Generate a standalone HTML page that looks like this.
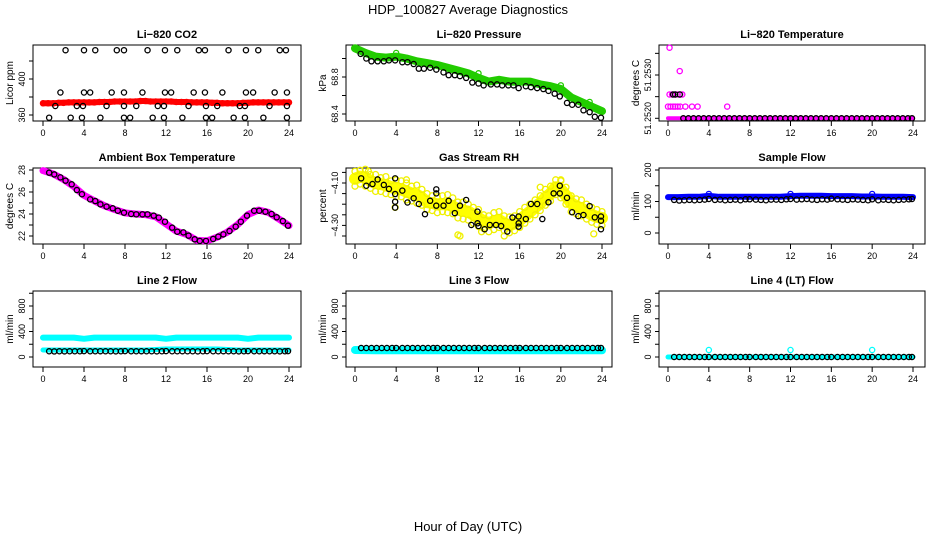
<!DOCTYPE html>
<html><head><meta charset="utf-8"><style>
html,body{margin:0;padding:0;background:#fff;}
svg{display:block;font-family:"Liberation Sans",Arial,sans-serif;}
</style></head><body>
<svg id="chart" width="936" height="540" viewBox="0 0 936 540" xmlns="http://www.w3.org/2000/svg">
<text x="468" y="14" text-anchor="middle" font-size="13">HDP_100827  Average Diagnostics</text>
<text x="468" y="531" text-anchor="middle" font-size="13">Hour of Day (UTC)</text>
</svg>
<script>
// ---------- data ----------
const xTicks = [0,4,8,12,16,20,24];
const halfHours = [0,0.5,1,1.5,2,2.5,3,3.5,4,4.5,5,5.5,6,6.5,7,7.5,8,8.5,9,9.5,10,10.5,11,11.5,12,12.5,13,13.5,14,14.5,15,15.5,16,16.5,17,17.5,18,18.5,19,19.5,20,20.5,21,21.5,22,22.5,23,23.5,24];
const hourly = [0,1,2,3,4,5,6,7,8,9,10,11,12,13,14,15,16,17,18,19,20,21,22,23,24];
const blackHours = [0.6,1.1,1.6,2.1,2.6,3.1,3.6,4.0,4.6,5.1,5.6,6.1,6.6,7.1,7.6,8.0,8.6,9.1,9.6,10.1,10.6,11.1,11.6,12.0,12.6,13.1,13.6,14.1,14.6,15.1,15.6,16.0,16.6,17.1,17.6,18.1,18.6,19.1,19.6,20.0,20.6,21.1,21.6,22.1,22.6,23.1,23.6,23.9];

// P1 CO2
const co2Red = [373,373,373,373.5,373.5,374,374,374,374,374,374,374.5,374.5,374.5,375,375,375,375,375,375.5,375.5,375,375,375,375,375,374.5,374.5,374.5,374,374,374,374,373.5,373.5,373,373,373,373,373.5,373.5,374,374,374,374,374,374,374,374];
const co2BlackHours = [2.2,4.0,5.1,7.2,7.9,10.2,11.9,13.1,15.2,15.8,18.1,19.8,21.0,23.1,23.7, 1.7,4.0,4.6,6.7,7.9,9.7,11.9,12.5,14.7,15.8,17.5,19.8,20.5,22.6,23.8, 1.2,3.3,3.9,6.2,7.9,9.1,11.2,11.8,14.2,15.9,17.0,19.2,19.7,22.1,23.8, 0.6,2.7,3.8,5.6,7.9,8.5,10.7,11.8,13.6,15.9,16.5,18.6,19.7,21.5,23.8];
const co2BlackVals = [432,432,432,432,432,432,432,432,432,432,432,432,432,432,432, 385,385,385,385,385,385,385,385,385,385,385,385,385,385,385, 370,370,370,370,370,370,370,370,370,370,370,370,370,370,370, 357,357,357,357,357,357,357,357,357,357,357,357,357,357,357];

// P2 Pressure
const presGreen = [69.11,69.06,69.02,69.01,69.02,69.0,68.97,68.95,68.93,68.90,68.87,68.84,68.79,68.75,68.77,68.75,68.75,68.75,68.72,68.70,68.67,68.58,68.53,68.48,68.43];
const presGreenOutHours = [4.0,12.0,20.0,22.8];
const presGreenOutVals = [69.06,68.84,68.71,68.53];
const presBlackHours = [0.55,1.1,1.6,2.2,2.8,3.3,3.9,4.6,5.1,5.7,6.2,6.7,7.3,7.9,8.6,9.1,9.7,10.2,10.8,11.4,12.0,12.5,13.2,13.8,14.3,14.9,15.4,15.9,16.6,17.1,17.7,18.3,18.8,19.4,19.9,20.6,21.1,21.7,22.2,22.8,23.3,23.9];
const presBlackVals = [69.05,69.0,68.97,68.97,68.97,68.98,68.98,68.96,68.96,68.94,68.89,68.89,68.90,68.88,68.85,68.82,68.82,68.81,68.79,68.74,68.73,68.71,68.72,68.72,68.71,68.71,68.71,68.68,68.70,68.69,68.68,68.67,68.65,68.62,68.59,68.52,68.50,68.50,68.44,68.42,68.37,68.36];

// P3 Li-820 temperature
const tempBase = [51.2520,51.2520,51.2520,51.2520,51.2520,51.2520,51.2520,51.2520,51.2520,51.2520,51.2520,51.2520,51.2520,51.2520,51.2520,51.2520,51.2520,51.2520,51.2520,51.2520,51.2520,51.2520,51.2520,51.2520,51.2520];
const tempMagHours = [0,0.25,0.5,0.7,0.95,1.2,1.7,2.35,2.9,5.8, 0.15,0.4,0.7,0.95,1.2,1.4, 1.15, 0.15];
const tempMagVals = [51.25227,51.25227,51.25227,51.25227,51.25227,51.25227,51.25227,51.25227,51.25227,51.25227, 51.25255,51.25255,51.25255,51.25255,51.25255,51.25255, 51.25309, 51.25363];
const tempBlackHours = [0.5,0.7,1.15,1.5,2.0,2.5,3.0,3.5,4.0,4.5,5.0,5.5,6.0,6.5,7.0,7.5,8.0,8.5,9.0,9.5,10.0,10.5,11.0,11.5,12.0,12.5,13.0,13.5,14.0,14.5,15.0,15.5,16.0,16.5,17.0,17.5,18.0,18.5,19.0,19.5,20.0,20.5,21.0,21.5,22.0,22.5,23.0,23.5,23.9];
const tempBlackVals = [51.25255,51.25255,51.25255,51.2520,51.2520,51.2520,51.2520,51.2520,51.2520,51.2520,51.2520,51.2520,51.2520,51.2520,51.2520,51.2520,51.2520,51.2520,51.2520,51.2520,51.2520,51.2520,51.2520,51.2520,51.2520,51.2520,51.2520,51.2520,51.2520,51.2520,51.2520,51.2520,51.2520,51.2520,51.2520,51.2520,51.2520,51.2520,51.2520,51.2520,51.2520,51.2520,51.2520,51.2520,51.2520,51.2520,51.2520,51.2520,51.2520];

// P4 Ambient box temperature
const ambMag = [27.95,27.65,27.15,26.5,25.7,25.2,24.75,24.4,24.1,24.0,23.95,23.75,23.1,22.45,22.15,21.6,21.55,21.9,22.35,23.05,23.95,24.35,24.15,23.55,22.95];
const ambBlackHours = [0.6,1.1,1.7,2.2,2.8,3.3,3.8,4.6,5.1,5.6,6.2,6.8,7.3,7.9,8.6,9.1,9.7,10.2,10.8,11.3,11.9,12.6,13.1,13.7,14.2,14.8,15.3,15.9,16.6,17.1,17.6,18.2,18.8,19.3,19.9,20.6,21.1,21.7,22.3,22.8,23.4,23.9];
const ambBlackVals = [27.76,27.6,27.33,27.03,26.7,26.18,25.8,25.33,25.18,24.88,24.67,24.52,24.3,24.12,24.0,23.97,23.97,23.97,23.85,23.67,23.3,22.76,22.39,22.33,22.03,21.7,21.55,21.55,21.73,21.94,22.15,22.45,22.85,23.3,23.85,24.3,24.3,24.21,24.0,23.7,23.36,22.94];

// P5 Gas stream RH
const rhCenter = [-4.08,-4.07,-4.075,-4.09,-4.10,-4.105,-4.11,-4.12,-4.125,-4.13,-4.14,-4.15,-4.155,-4.17,-4.19,-4.195,-4.2,-4.2,-4.2,-4.21,-4.225,-4.23,-4.235,-4.25,-4.265,-4.28,-4.29,-4.28,-4.275,-4.29,-4.3,-4.29,-4.275,-4.255,-4.235,-4.215,-4.195,-4.17,-4.15,-4.12,-4.13,-4.16,-4.195,-4.21,-4.22,-4.235,-4.25,-4.26,-4.265];
const rhUpper = [-4.045,-4.04,-4.035,-4.06,-4.06,-4.075,-4.07,-4.09,-4.085,-4.09,-4.10,-4.115,-4.11,-4.13,-4.15,-4.16,-4.165,-4.16,-4.155,-4.17,-4.19,-4.19,-4.2,-4.215,-4.225,-4.25,-4.255,-4.24,-4.235,-4.255,-4.26,-4.255,-4.235,-4.215,-4.2,-4.18,-4.16,-4.13,-4.115,-4.085,-4.09,-4.12,-4.16,-4.175,-4.18,-4.2,-4.215,-4.225,-4.235];
const rhLower = [-4.115,-4.105,-4.115,-4.125,-4.14,-4.14,-4.15,-4.155,-4.165,-4.165,-4.18,-4.185,-4.195,-4.205,-4.225,-4.23,-4.24,-4.235,-4.24,-4.245,-4.265,-4.27,-4.275,-4.29,-4.305,-4.315,-4.33,-4.32,-4.31,-4.325,-4.335,-4.325,-4.31,-4.29,-4.27,-4.25,-4.23,-4.205,-4.185,-4.155,-4.17,-4.2,-4.235,-4.245,-4.255,-4.27,-4.285,-4.295,-4.3];
const rhOutHours = [10.0,10.2,14.5,23.2,1.3,5.0,20.0,18.0,3.9,12.3];
const rhOutVals = [-4.345,-4.35,-4.35,-4.34,-4.045,-4.085,-4.085,-4.12,-4.215,-4.33];
const rhBlackHours = [0.6,1.1,1.7,2.2,2.8,3.3,3.9,3.9,3.9,3.9,4.6,5.1,5.7,6.2,6.8,7.3,7.9,7.9,7.9,8.6,9.1,9.7,10.2,10.8,11.3,11.9,11.9,12.0,12.6,13.1,13.7,14.2,14.8,15.3,15.9,15.9,15.9,16.6,17.1,17.7,18.2,18.8,19.3,19.9,19.9,20.6,21.1,21.7,22.2,22.8,23.3,23.9,23.9,23.9];
const rhBlackVals = [-4.078,-4.113,-4.105,-4.083,-4.109,-4.128,-4.152,-4.078,-4.188,-4.216,-4.136,-4.192,-4.172,-4.199,-4.247,-4.184,-4.13,-4.149,-4.207,-4.207,-4.184,-4.242,-4.207,-4.18,-4.298,-4.235,-4.29,-4.303,-4.318,-4.298,-4.298,-4.303,-4.329,-4.263,-4.258,-4.29,-4.306,-4.27,-4.199,-4.199,-4.27,-4.191,-4.149,-4.113,-4.149,-4.17,-4.238,-4.256,-4.251,-4.209,-4.262,-4.258,-4.278,-4.318];

// P6 Sample flow
const sampBlue = [114,114,115,115,118,115,115,115,115,115,115,115,117,118,118,118,117,117,117,116,116,115,115,115,114];
const sampBlueOutHours = [4.0,12.0,20.0];
const sampBlueOutVals = [124,124,124];
const sampBlack = [105,103,104,105,104,105,106,108,105,106,104,105,106,104,107,107,106,105,104,106,106,105,107,108,106,107,108,106,105,107,106,109,107,106,105,107,106,105,104,107,104,106,105,104,105,106,107,108];

// Line 2 flow
const l2CyanHigh = [305,305,305,305,285,305,305,305,305,305,305,305,285,305,305,305,305,305,305,305,285,305,305,305,305];
const l2CyanLow = [110,110,110,110,110,110,110,110,110,110,110,118,125,125,125,125,125,125,118,110,110,110,110,110,110];
const l2Black = [90,88,90,89,90,90,90,92,90,90,91,90,90,89,90,92,90,90,91,90,90,89,90,93,90,90,91,90,90,89,90,92,90,90,91,90,90,89,90,92,90,90,91,90,90,89,90,92];

// Line 3 flow
const l3Cyan = [110,108,106,106,105,106,106,105,106,105,106,105,105,106,105,105,106,105,105,106,105,105,106,105,105];
const l3Black = [141,141,141,141,141,141,141,142,141,141,141,141,141,141,141,142,141,141,141,141,141,141,141,142,141,141,141,141,141,141,141,142,141,141,141,141,141,141,141,142,141,141,141,141,141,141,141,142];

// Line 4 flow
const l4Cyan = [0,0,0,0,0,0,0,0,0,0,0,0,0,0,0,0,0,0,0,0,0,0,0,0,0];
const l4CyanOutHours = [4.0,12.0,20.0];
const l4CyanOutVals = [110,110,110];
const l4Black = [0,0,0,0,0,0,0,0,0,0,0,0,0,0,0,0,0,0,0,0,0,0,0,0,0,0,0,0,0,0,0,0,0,0,0,0,0,0,0,0,0,0,0,0,0,0,0,0];

// ---------- drawing ----------
const svg = document.getElementById('chart');
const NS = 'http://www.w3.org/2000/svg';
function mk(tag, attrs, parent){
  const e = document.createElementNS(NS, tag);
  for (const k in attrs) e.setAttribute(k, attrs[k]);
  (parent||svg).appendChild(e);
  return e;
}
const cols = [{l:33,r:301,x0:43,x24:289},{l:346,r:612,x0:355,x24:602},{l:659,r:925,x0:668,x24:913}];
const rows = [{t:45,b:121},{t:168,b:244},{t:291,b:367}];

function makePanel(name, title, col, row, yTitle, v1, p1, v2, p2, ticks, labels){
  const c = cols[col], r = rows[row];
  const g = mk('g', {});
  
  
  const P = {g:g, x: h => c.x0 + h*(c.x24-c.x0)/24, y: v => p1 + (v-v1)*(p2-p1)/(v2-v1), c:c, r:r};
  const t = mk('text', {x:(c.l+c.r)/2, y:r.t-7, 'text-anchor':'middle', 'font-size':11, 'font-weight':'bold'}, g);
  t.textContent = title;
  
  
  const box = mk('rect', {x:c.l, y:r.t, width:c.r-c.l, height:r.b-r.t, fill:'none', stroke:'#000', 'stroke-width':1}, g);
  
  
  xTicks.forEach(h => {
    const px = P.x(h);
    const tk = mk('line', {x1:px, x2:px, y1:r.b, y2:r.b+5, stroke:'#000'}, g);
    
    
    const tl = mk('text', {x:px, y:r.b+15, 'text-anchor':'middle', 'font-size':9}, g);
    tl.textContent = h;
    
    
  });
  ticks.forEach(v => {
    const py = P.y(v);
    const tk = mk('line', {x1:c.l-4, x2:c.l, y1:py, y2:py, stroke:'#000'}, g);
    
    
  });
  labels.forEach(lb => {
    const py = P.y(lb[0]);
    const tl = mk('text', {x:0, y:0, 'text-anchor':'middle', 'font-size':9, transform:'translate('+(c.l-8)+','+py+') rotate(-90)'}, g);
    tl.textContent = lb[1];
    
    
  });
  const yt = mk('text', {x:0, y:0, 'text-anchor':'middle', 'font-size':10, transform:'translate('+(c.l-20)+','+((r.t+r.b)/2)+') rotate(-90)'}, g);
  yt.textContent = yTitle;
  
  
  const clip = mk('g', {}, g);
  
  
  P.m = clip;
  return P;
}
function band(P, hours, vals, color, width, name){
  const n = Math.min(hours.length, vals.length);
  let d = '';
  for (let i=0;i<n;i++) d += (i?'L':'M') + P.x(hours[i]).toFixed(1) + ' ' + P.y(vals[i]).toFixed(1);
  const pl = mk('path', {d:d, fill:'none', stroke:color, 'stroke-width':width, 'stroke-linecap':'round', 'stroke-linejoin':'round'}, P.m);
  
  
}
function pts(P, hours, vals, color, name, rad){
  const n = Math.min(hours.length, vals.length);
  for (let i=0;i<n;i++){
    const ci = mk('circle', {cx:P.x(hours[i]), cy:P.y(vals[i]), r:rad||2.6, fill:'none', stroke:color, 'stroke-width':1.3}, P.m);
    
    
  }
}

// P1
let P = makePanel('co2', 'Li\u2212820 CO2', 0, 0, 'Licor ppm', 360, 115, 400, 79, [360,380,400,420], [[360,'360'],[400,'400']]);
band(P, halfHours, co2Red, '#ff0000', 6, 'co2-red-band');
pts(P, halfHours, co2Red, '#ff0000', 'co2-red-point');
pts(P, co2BlackHours, co2BlackVals, '#000', 'co2-black-point');

// P2
P = makePanel('pressure', 'Li\u2212820 Pressure', 1, 0, 'kPa', 68.4, 114, 68.8, 77, [68.4,68.6,68.8,69.0], [[68.4,'68.4'],[68.8,'68.8']]);
band(P, hourly, presGreen, '#22cc00', 8, 'pressure-green-band');
pts(P, hourly, presGreen, '#22cc00', 'pressure-green-point');
pts(P, presGreenOutHours, presGreenOutVals, '#22cc00', 'pressure-green-outlier');
pts(P, presBlackHours, presBlackVals, '#000', 'pressure-black-point');

// P3
P = makePanel('li820-temp', 'Li\u2212820 Temperature', 2, 0, 'degrees C', 51.2520, 118.3, 51.2530, 75, [51.2520,51.2525,51.2530,51.2535], [[51.2520,'51.2520'],[51.2530,'51.2530']]);
band(P, hourly, tempBase, '#ff00ff', 4, 'temp-magenta-band');
pts(P, tempMagHours, tempMagVals, '#ff00ff', 'temp-magenta-point');
pts(P, tempBlackHours, tempBlackVals, '#000', 'temp-black-point');

// P4
P = makePanel('ambient', 'Ambient Box Temperature', 0, 1, 'degrees C', 22, 236, 28, 170, [22,23,24,25,26,27,28], [[22,'22'],[24,'24'],[26,'26'],[28,'28']]);
band(P, hourly, ambMag, '#ff00ff', 7, 'ambient-magenta-band');
pts(P, ambBlackHours, ambBlackVals, '#000', 'ambient-black-point');

// P5
P = makePanel('rh', 'Gas Stream RH', 1, 1, 'percent', -4.10, 183, -4.30, 225.4, [-4.05,-4.10,-4.15,-4.20,-4.25,-4.30,-4.35], [[-4.10,'\u22124.10'],[-4.30,'\u22124.30']]);
band(P, halfHours, rhCenter, '#ffff00', 12, 'rh-yellow-band');
pts(P, halfHours, rhUpper, '#f0f000', 'rh-yellow-point', 3);
pts(P, halfHours, rhLower, '#f0f000', 'rh-yellow-point', 3);
pts(P, rhOutHours, rhOutVals, '#f0f000', 'rh-yellow-outlier', 3);
pts(P, rhBlackHours, rhBlackVals, '#000', 'rh-black-point');

// P6
P = makePanel('sample-flow', 'Sample Flow', 2, 1, 'ml/min', 0, 233, 200, 170, [0,50,100,150,200], [[0,'0'],[100,'100'],[200,'200']]);
band(P, hourly, sampBlue, '#0000ff', 6, 'sample-blue-band');
pts(P, sampBlueOutHours, sampBlueOutVals, '#0000ff', 'sample-blue-outlier');
pts(P, blackHours, sampBlack, '#000', 'sample-black-point');

// Line 2
P = makePanel('line2', 'Line 2 Flow', 0, 2, 'ml/min', 0, 357, 800, 306, [0,200,400,600,800,1000], [[0,'0'],[400,'400'],[800,'800']]);
band(P, hourly, l2CyanHigh, '#00ffff', 6, 'line2-cyan-high-band');
band(P, hourly, l2CyanLow, '#00ffff', 5, 'line2-cyan-low-band');
pts(P, blackHours, l2Black, '#000', 'line2-black-point');

// Line 3
P = makePanel('line3', 'Line 3 Flow', 1, 2, 'ml/min', 0, 357, 800, 306, [0,200,400,600,800,1000], [[0,'0'],[400,'400'],[800,'800']]);
band(P, hourly, l3Cyan, '#00ffff', 8, 'line3-cyan-band');
pts(P, blackHours, l3Black, '#000', 'line3-black-point');

// Line 4
P = makePanel('line4', 'Line 4 (LT) Flow', 2, 2, 'ml/min', 0, 357, 800, 306, [0,200,400,600,800,1000], [[0,'0'],[400,'400'],[800,'800']]);
band(P, hourly, l4Cyan, '#00ffff', 5, 'line4-cyan-band');
pts(P, l4CyanOutHours, l4CyanOutVals, '#00ffff', 'line4-cyan-outlier');
pts(P, blackHours, l4Black, '#000', 'line4-black-point');
</script>
</body></html>
